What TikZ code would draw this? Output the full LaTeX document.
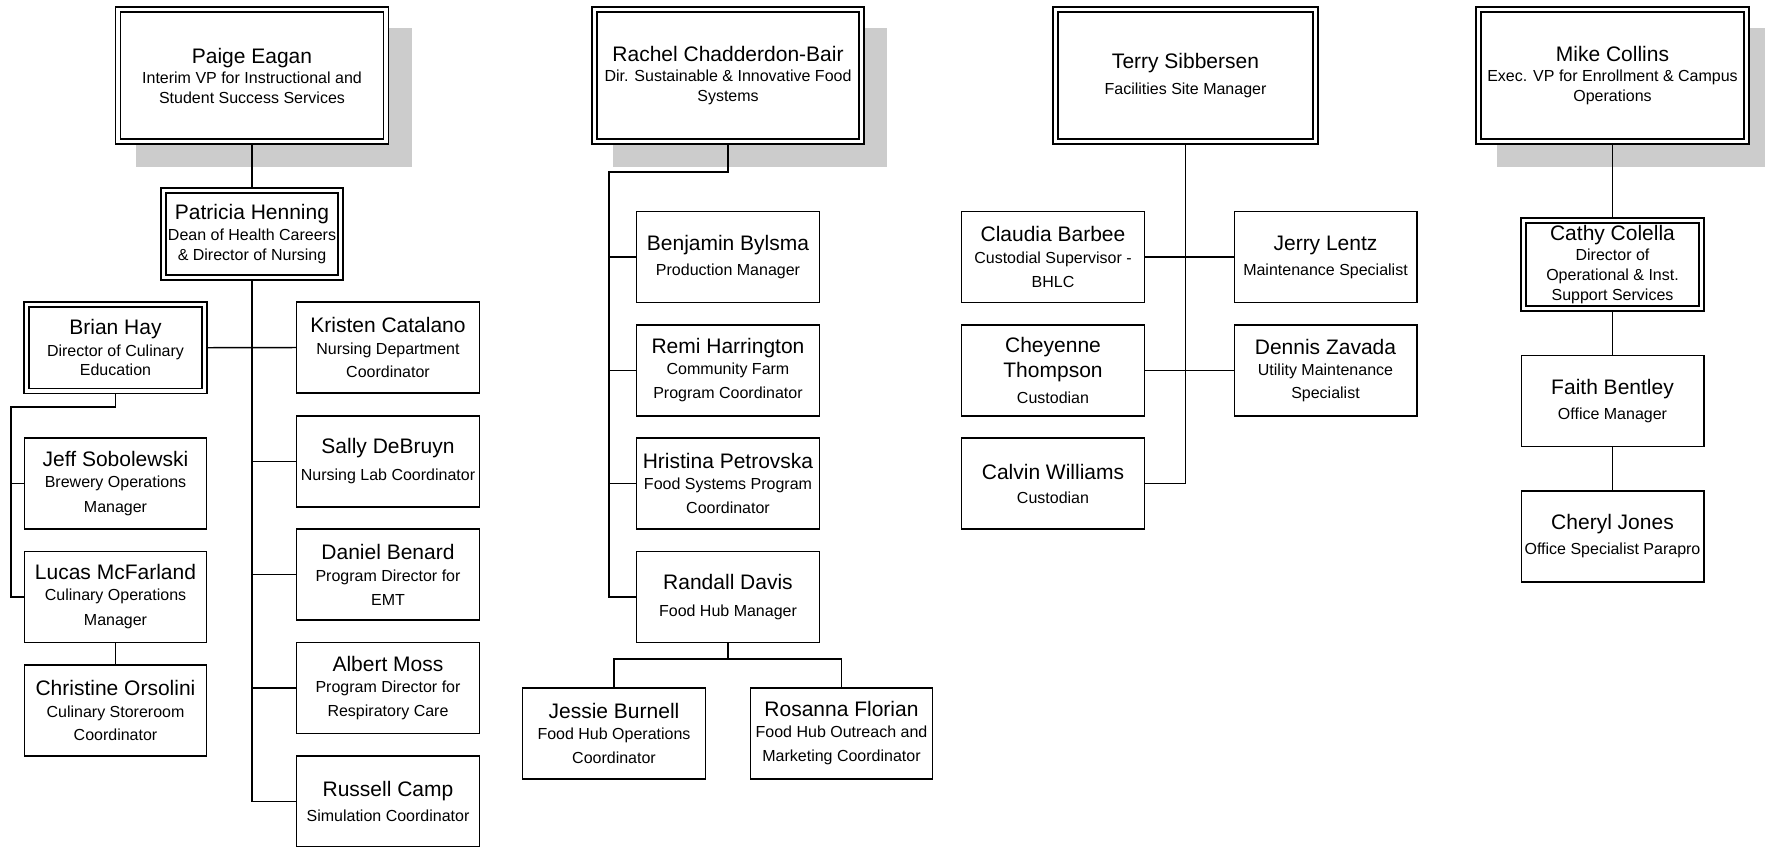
\documentclass[tikz,border=0pt]{standalone}
\usepackage{fontspec}
\setmainfont{Liberation Sans}
\usetikzlibrary{backgrounds}
\newcommand{\subf}{\fontsize{12pt}{15pt}\selectfont}
\newcommand{\nmf}[1]{{\fontsize{15.75pt}{18pt}\selectfont #1}}
\tikzset{
  sbox/.style={draw, fill=white, line width=1.1pt, inner sep=0pt, align=center, font=\subf,
    minimum width=136.875pt, minimum height=68.25pt},
  dbox/.style={sbox, double, double distance=2.65pt},
  topbox/.style={dbox, minimum width=201.375pt, minimum height=99pt},
  conn/.style={line width=1.1pt},
  shadowc/.style={fill=black!20}
}
\begin{document}
\begin{tikzpicture}[x=0.75pt, y=-0.75pt]
\useasboundingbox (0,0) rectangle (1765,846);

% ---------- column 1 ----------
\node[topbox] (pai) at (252,75.5) {\nmf{Paige Eagan}\\Interim VP for Instructional and\\Student Success Services};
\node[dbox, minimum width=132.75pt, minimum height=65.25pt] (pat) at (252,234) {\nmf{Patricia Henning}\\[0.75pt]Dean of Health Careers\\\& Director of Nursing};
\node[dbox, minimum width=133.5pt, minimum height=64.875pt] (bri) at (115.5,347.75) {\nmf{Brian Hay}\\[1.5pt]Director of Culinary\\[-0.75pt]Education};
\node[sbox] (kri) at (388,347.5) {\nmf{Kristen Catalano}\\[1.5pt]Nursing Department\\[2.25pt]Coordinator};
\node[sbox] (sal) at (388,461.5) {\nmf{Sally DeBruyn}\\[5.25pt]Nursing Lab Coordinator};
\node[sbox] (dan) at (388,574.5) {\nmf{Daniel Benard}\\[1.5pt]Program Director for\\[3pt]EMT};
\node[sbox] (alb) at (388,688) {\nmf{Albert Moss}\\[0.75pt]Program Director for\\[3pt]Respiratory Care};
\node[sbox] (rus) at (388,801.5) {\nmf{Russell Camp}\\[3.75pt]Simulation Coordinator};
\node[sbox] (jef) at (115.5,483.5) {\nmf{Jeff Sobolewski}\\[0.75pt]Brewery Operations\\[3.75pt]Manager};
\node[sbox] (luc) at (115.5,597) {\nmf{Lucas McFarland}\\[0.75pt]Culinary Operations\\[3.75pt]Manager};
\node[sbox] (chr) at (115.5,710.5) {\nmf{Christine Orsolini}\\[1.5pt]Culinary Storeroom\\[2.25pt]Coordinator};

% ---------- column 2 ----------
\node[topbox, minimum width=200.25pt] (rac) at (728,75.5) {\nmf{Rachel Chadderdon-Bair}\\Dir. Sustainable \& Innovative Food\\Systems};
\node[sbox] (ben) at (728,257) {\nmf{Benjamin Bylsma}\\[3.75pt]Production Manager};
\node[sbox] (rem) at (728,370.5) {\nmf{Remi Harrington}\\[0.75pt]Community Farm\\[3pt]Program Coordinator};
\node[sbox] (hri) at (728,483.5) {\nmf{Hristina Petrovska}\\[0.75pt]Food Systems Program\\[3pt]Coordinator};
\node[sbox] (ran) at (728,597) {\nmf{Randall Davis}\\[5.25pt]Food Hub Manager};
\node[sbox] (jes) at (614,733.5) {\nmf{Jessie Burnell}\\[0.75pt]Food Hub Operations\\[3pt]Coordinator};
\node[sbox] (ros) at (841.5,733.5) {\nmf{Rosanna Florian}\\[0.75pt]Food Hub Outreach and\\[3pt]Marketing Coordinator};

% ---------- column 3 ----------
\node[topbox, minimum width=195pt] (ter) at (1185.5,75.5) {\nmf{Terry Sibbersen}\\[4.5pt]Facilities Site Manager};
\node[sbox] (cla) at (1053,257) {\nmf{Claudia Barbee}\\[1.5pt]Custodial Supervisor -\\[3pt]BHLC};
\node[sbox] (jer) at (1325.5,257) {\nmf{Jerry Lentz}\\[3.75pt]Maintenance Specialist};
\node[sbox] (chy) at (1053,370.5) {\nmf{Cheyenne}\\[3.75pt]\nmf{Thompson}\\[4.5pt]Custodian};
\node[sbox] (den) at (1325.5,370.5) {\nmf{Dennis Zavada}\\[0.75pt]Utility Maintenance\\[2.25pt]Specialist};
\node[sbox] (cal) at (1053,483.5) {\nmf{Calvin Williams}\\[3pt]Custodian};

% ---------- column 4 ----------
\node[topbox, minimum width=201pt] (mik) at (1612.5,75.5) {\nmf{Mike Collins}\\Exec. VP for Enrollment \& Campus\\Operations};
\node[dbox, minimum width=133.5pt, minimum height=66pt] (cat) at (1612.5,264.5) {\nmf{Cathy Colella}\\Director of\\Operational \& Inst.\\Support Services};
\node[sbox] (fai) at (1612.5,401) {\nmf{Faith Bentley}\\[3.75pt]Office Manager};
\node[sbox] (chj) at (1612.5,536.5) {\nmf{Cheryl Jones}\\[3.75pt]Office Specialist Parapro};

% ---------- shadows and connectors ----------
\begin{scope}[on background layer]
\foreach \n in {pai,rac,mik}
  \fill[shadowc] ([shift={(19,19)}]\n.north west) rectangle ([shift={(25,25)}]\n.south east);
\draw[conn] (pai.south) -- (pat.north);
\draw[conn] (pat.south) |- (rus.west);
\foreach \n in {kri,sal,dan,alb}
  \draw[conn] (pat.south |- \n.west) -- (\n.west);
\draw[conn] (bri.east) -- (kri.west);
\coordinate (bl) at (11,407);
\draw[conn] (bri.south) |- (bl) |- (luc.west);
\draw[conn] (bl |- jef.west) -- (jef.west);
\draw[conn] (luc.south) -- (chr.north);
\coordinate (rl) at (609,172);
\draw[conn] (rac.south) |- (rl) |- (ran.west);
\foreach \n in {ben,rem,hri}
  \draw[conn] (rl |- \n.west) -- (\n.west);
\coordinate (rj) at (728,659);
\draw[conn] (ran.south) -- (rj);
\draw[conn] (jes.north) |- (rj) -| (ros.north);
\draw[conn] (ter.south) |- (cal.east);
\draw[conn] (cla.east) -- (jer.west);
\draw[conn] (chy.east) -- (den.west);
\draw[conn] (mik.south) -- (cat.north);
\draw[conn] (cat.south) -- (fai.north);
\draw[conn] (fai.south) -- (chj.north);
\end{scope}
\end{tikzpicture}
\end{document}
